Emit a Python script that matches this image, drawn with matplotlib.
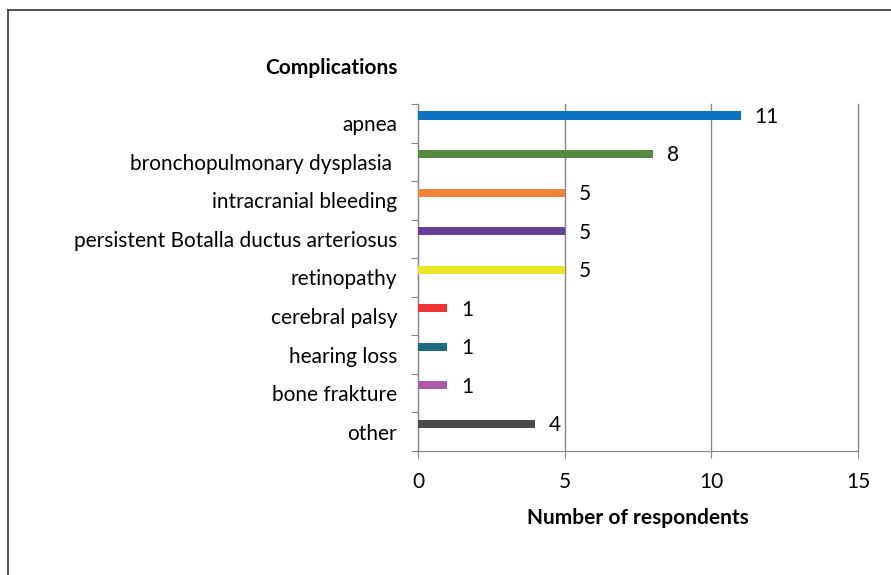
import numpy as np
import matplotlib.pyplot as plt
from matplotlib.lines import Line2D

plt.rcParams['font.family'] = ['Lato', 'DejaVu Sans']

categories = ['apnea', 'bronchopulmonary dysplasia ', 'intracranial bleeding',
              'persistent Botalla ductus arteriosus', 'retinopathy', 'cerebral palsy',
              'hearing loss', 'bone frakture', 'other']
values = [11, 8, 5, 5, 5, 1, 1, 1, 4]
colors = ['#0E72C0', '#548B3F', '#F0843C', '#654097', '#ECE424',
          '#EE3535', '#1E6A80', '#A95AA8', '#4A4A4A']

fig = plt.figure(figsize=(8.91, 5.75), dpi=100)
ax = fig.add_axes([0.4691, 0.2157, 0.4938, 0.6035])

pos = np.arange(len(categories))
ax.barh(pos - 0.2, values, height=0.21, color=colors, zorder=3)
for p, v in zip(pos, values):
    ax.annotate(str(v), (v, p - 0.2), xytext=(10, -1), textcoords='offset points',
                va='center', ha='left', fontsize=15)

ax.set_xlim(0, 15)
ax.set_ylim(len(categories) - 0.5, -0.5)
ax.set_xticks([0, 5, 10, 15])
ax.set_yticks(np.arange(len(categories) + 1) - 0.5)
ax.set_yticklabels([])
ax.set_yticks(pos, minor=True)
ax.set_yticklabels(categories, minor=True, fontsize=15)
ax.tick_params(axis='y', which='major', length=5, color='#888888')
ax.tick_params(axis='y', which='minor', length=0, pad=15)
ax.tick_params(axis='x', length=5, color='#888888', labelsize=15, pad=10)
ax.grid(axis='x', color='#888888', lw=1, zorder=0)
for gl in ax.get_xgridlines():
    gl.set_clip_on(False)
for s in ['top', 'right']:
    ax.spines[s].set_visible(False)
for s in ['left', 'bottom']:
    ax.spines[s].set_color('#888888')

ax.set_xlabel('Number of respondents', fontsize=15, fontweight='bold', labelpad=12)
fig.text(265 / 891, 1 - 68 / 575, 'Complications', fontsize=15, fontweight='bold',
         ha='left', va='center')

# frame
fig.add_artist(Line2D([8 / 891, 1], [1 - 10 / 575] * 2, color='#333333', lw=1.2))
fig.add_artist(Line2D([8 / 891] * 2, [0, 1 - 10 / 575], color='#333333', lw=1.2))

fig.savefig('out.png', dpi=100)
